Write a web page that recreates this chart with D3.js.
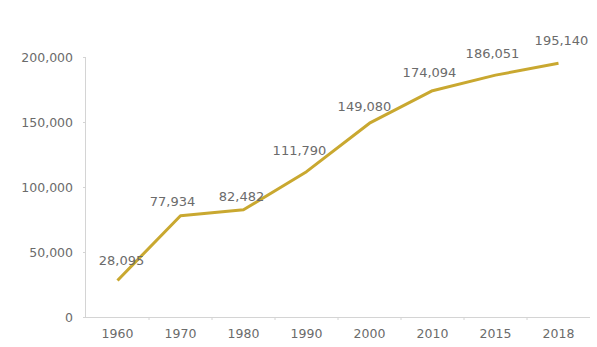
<!DOCTYPE html>
<html>
<head>
<meta charset="utf-8">
<script src="https://cdn.jsdelivr.net/npm/d3@7"></script>
<style>
	body { margin: 0; background: #fff; }
	svg text { font-family: 'DejaVu Sans', sans-serif; fill: #6b6b6b; }
	.axis path, .axis line { stroke: #d4d4d4; }
</style>
</head>
<body>
<div id="chart"></div>
<script>
let width = 597
let height = 347

let margins = {
	top : 57,
	right : 7,
	bottom : 30,
	left : 86,
}

let years = ['1960','1970','1980','1990','2000','2010','2015','2018']
let population = [28095, 77934, 82482, 111790, 149080, 174094, 186051, 195140]
let yTicks = [0, 50000, 100000, 150000, 200000]

// label nudges in px, [dx, dy] from each point
let labelOffset = [[4,-20],[-8,-14],[-2,-13],[-7,-21],[-5,-17],[-3,-18],[-3,-22],[3,-23]]

let innerW = width - margins.left - margins.right
let innerH = height - margins.top - margins.bottom

let xScale = d3.scaleBand()
	.domain(years)
	.range([0, innerW])

let yScale = d3.scaleLinear()
	.domain([0, 200000])
	.range([innerH, 0])

let svg = d3.select('#chart').append('svg')
	.attr('width', width)
	.attr('height', height)

let inner = svg.append('g')
	.attr('transform', `translate(${margins.left},${margins.top})`)

let yAxis = d3.axisLeft(yScale)
	.tickValues(yTicks)
	.tickSize(3)
	.tickPadding(10)
	.tickFormat(d3.format(','))

let yG = inner.append('g').attr('class', 'axis').call(yAxis)
yG.select('.domain').attr('d', `M-0.5,${innerH}V0`)
yG.selectAll('text').style('font-size', '12.5px')

let xAxis = d3.axisBottom(xScale)
	.tickSize(0)
	.tickPadding(12)

let xG = inner.append('g')
	.attr('class', 'axis')
	.attr('transform', `translate(0,${innerH})`)
	.call(xAxis)
xG.select('.domain').attr('d', `M0,0.5H${innerW}`)
xG.selectAll('text').style('font-size', '12.5px')

// small ticks between categories
xG.selectAll('.sep')
	.data(years.slice(1))
	.enter()
	.append('line')
	.attr('x1', (d) => xScale(d))
	.attr('x2', (d) => xScale(d))
	.attr('y1', 0)
	.attr('y2', 3)
	.attr('stroke', '#d4d4d4')

let line = d3.line()
	.x((d, i) => xScale(years[i]) + xScale.bandwidth() / 2)
	.y((d) => yScale(d))

inner.append('path')
	.datum(population)
	.attr('fill', 'none')
	.attr('stroke', '#c9a830')
	.attr('stroke-width', 3)
	.attr('stroke-linejoin', 'round')
	.attr('d', line)

inner.selectAll('.val')
	.data(population)
	.enter()
	.append('text')
	.attr('class', 'val')
	.attr('text-anchor', 'middle')
	.style('font-size', '13px')
	.attr('x', (d, i) => xScale(years[i]) + xScale.bandwidth() / 2 + labelOffset[i][0])
	.attr('y', (d, i) => yScale(d) + labelOffset[i][1])
	.attr('dy', '0.35em')
	.text((d) => d3.format(',')(d))
</script>
</body>
</html>
